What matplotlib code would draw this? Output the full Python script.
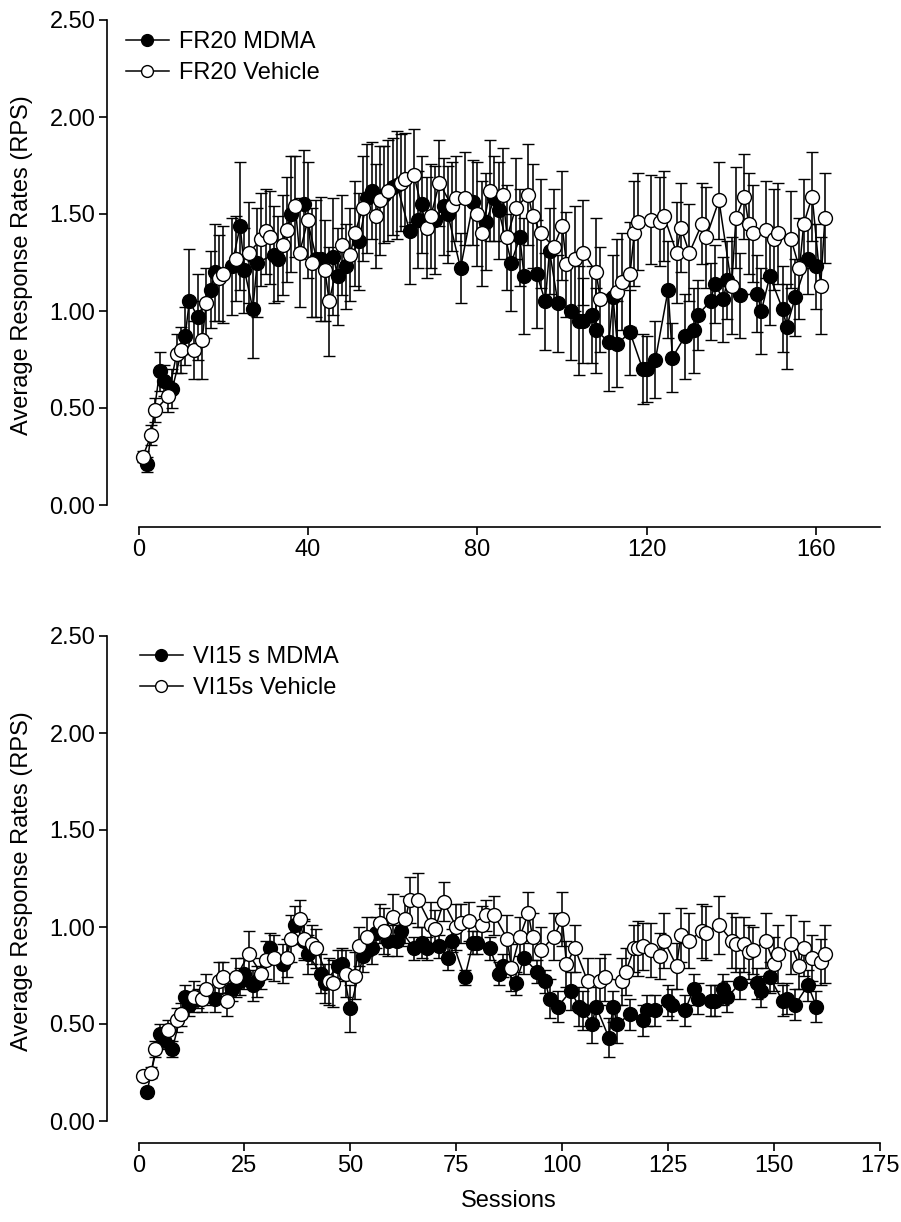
import matplotlib
matplotlib.use("Agg")
import matplotlib.pyplot as plt
from matplotlib.lines import Line2D

plt.rcParams['font.family'] = ['Liberation Sans', 'DejaVu Sans']

# ---------------- Top panel (FR20) ----------------
fr_veh_x = [1, 3, 4, 7, 9, 10, 13, 15, 16, 19, 20, 23, 26, 29, 30, 31, 34, 35, 37, 38,
            40, 41, 44, 45, 48, 50, 51, 53, 56, 57, 59, 62, 63, 65, 68, 69, 71, 74, 75, 77,
            80, 81, 83, 86, 87, 89, 92, 93, 95, 98, 100, 101, 103, 105, 108, 109, 113, 114, 116, 117,
            118, 121, 123, 124, 127, 128, 130, 133, 134, 137, 140, 141, 143, 144, 145, 148, 150, 151, 154, 156,
            157, 159, 161, 162]
fr_veh_y = [0.25, 0.36, 0.49, 0.56, 0.78, 0.80, 0.80, 0.85, 1.04, 1.17, 1.19, 1.27, 1.30, 1.37, 1.41, 1.38, 1.34, 1.42, 1.54, 1.30,
            1.47, 1.25, 1.21, 1.05, 1.34, 1.29, 1.40, 1.53, 1.49, 1.57, 1.62, 1.66, 1.68, 1.70, 1.43, 1.49, 1.66, 1.54, 1.58, 1.58,
            1.50, 1.40, 1.62, 1.60, 1.38, 1.53, 1.60, 1.49, 1.40, 1.33, 1.44, 1.24, 1.27, 1.30, 1.20, 1.06, 1.10, 1.15, 1.19, 1.40,
            1.46, 1.47, 1.46, 1.49, 1.30, 1.43, 1.30, 1.45, 1.38, 1.57, 1.13, 1.48, 1.59, 1.45, 1.40, 1.42, 1.37, 1.40, 1.37, 1.22,
            1.45, 1.59, 1.13, 1.48]
fr_veh_e = [0.03, 0.05, 0.06, 0.08, 0.10, 0.12, 0.15, 0.20, 0.18, 0.22, 0.25, 0.22, 0.26, 0.24, 0.22, 0.24, 0.26, 0.27, 0.26, 0.28,
            0.30, 0.28, 0.26, 0.28, 0.26, 0.24, 0.27, 0.27, 0.27, 0.28, 0.26, 0.25, 0.24, 0.24, 0.26, 0.27, 0.22, 0.23, 0.22, 0.24,
            0.27, 0.27, 0.26, 0.24, 0.27, 0.26, 0.26, 0.27, 0.28, 0.30, 0.28, 0.27, 0.27, 0.27, 0.28, 0.27, 0.27, 0.25, 0.27, 0.27,
            0.25, 0.23, 0.23, 0.23, 0.26, 0.23, 0.25, 0.21, 0.26, 0.20, 0.25, 0.26, 0.22, 0.26, 0.25, 0.25, 0.26, 0.26, 0.25, 0.26,
            0.23, 0.23, 0.25, 0.23]

fr_mdma_x = [2, 5, 6, 8, 11, 12, 14, 17, 18, 22, 24, 25, 27, 28, 32, 33, 36, 39, 42, 43,
             46, 47, 49, 52, 54, 55, 58, 60, 61, 64, 66, 67, 70, 72, 73, 76, 79, 82, 84, 85,
             88, 90, 91, 94, 96, 97, 99, 102, 104, 105, 107, 108, 111, 112, 113, 116, 119, 120, 122, 125,
             126, 129, 131, 132, 135, 136, 138, 139, 142, 146, 147, 149, 152, 153, 155, 158, 160]
fr_mdma_y = [0.21, 0.69, 0.64, 0.60, 0.87, 1.05, 0.97, 1.11, 1.20, 1.23, 1.44, 1.21, 1.01, 1.25, 1.29, 1.27, 1.50, 1.55, 1.27, 1.27,
             1.28, 1.18, 1.23, 1.36, 1.58, 1.62, 1.60, 1.64, 1.65, 1.41, 1.47, 1.55, 1.47, 1.54, 1.50, 1.22, 1.56, 1.46, 1.58, 1.52,
             1.25, 1.38, 1.18, 1.19, 1.05, 1.31, 1.04, 1.00, 0.95, 0.95, 0.98, 0.90, 0.84, 1.07, 0.83, 0.89, 0.70, 0.70, 0.75, 1.11,
             0.76, 0.87, 0.90, 0.98, 1.05, 1.14, 1.06, 1.16, 1.08, 1.09, 1.00, 1.18, 1.01, 0.92, 1.07, 1.27, 1.23]
fr_mdma_e = [0.04, 0.10, 0.08, 0.10, 0.15, 0.27, 0.22, 0.20, 0.25, 0.25, 0.33, 0.22, 0.25, 0.28, 0.25, 0.22, 0.30, 0.28, 0.30, 0.32,
             0.30, 0.25, 0.22, 0.25, 0.28, 0.25, 0.25, 0.25, 0.28, 0.27, 0.25, 0.25, 0.28, 0.25, 0.25, 0.18, 0.22, 0.25, 0.22, 0.25,
             0.25, 0.25, 0.30, 0.28, 0.25, 0.22, 0.25, 0.25, 0.28, 0.22, 0.25, 0.22, 0.25, 0.22, 0.22, 0.22, 0.18, 0.17, 0.20, 0.25,
             0.18, 0.22, 0.22, 0.18, 0.20, 0.20, 0.22, 0.20, 0.22, 0.20, 0.22, 0.25, 0.22, 0.22, 0.20, 0.18, 0.22]

# ---------------- Bottom panel (VI15 s) ----------------
vi_veh_x = [1, 3, 4, 7, 9, 10, 13, 15, 16, 19, 20, 21, 23, 26, 29, 30, 32, 35, 36, 38,
            39, 41, 42, 45, 46, 49, 51, 52, 54, 57, 58, 60, 63, 64, 66, 69, 70, 72, 75, 76,
            78, 81, 82, 84, 87, 88, 90, 92, 93, 95, 98, 100, 101, 103, 106, 109, 110, 114, 115, 117,
            118, 119, 121, 123, 124, 127, 128, 130, 133, 134, 137, 140, 141, 143, 144, 145, 148, 150, 151, 154,
            156, 157, 159, 161, 162]
vi_veh_y = [0.23, 0.25, 0.37, 0.47, 0.52, 0.55, 0.64, 0.63, 0.68, 0.72, 0.74, 0.62, 0.74, 0.86, 0.76, 0.83, 0.84, 0.84, 0.94, 1.04,
            0.94, 0.91, 0.89, 0.72, 0.71, 0.76, 0.75, 0.90, 0.95, 1.02, 0.98, 1.05, 1.04, 1.14, 1.14, 1.01, 0.99, 1.13, 1.00, 1.02,
            1.03, 1.01, 1.06, 1.06, 0.94, 0.79, 0.95, 1.07, 0.95, 0.88, 0.95, 1.04, 0.81, 0.89, 0.72, 0.72, 0.74, 0.72, 0.77, 0.89,
            0.89, 0.90, 0.88, 0.85, 0.93, 0.80, 0.96, 0.93, 0.98, 0.97, 1.01, 0.93, 0.91, 0.91, 0.87, 0.88, 0.93, 0.81, 0.86, 0.91,
            0.80, 0.89, 0.84, 0.82, 0.86]
vi_veh_e = [0.02, 0.03, 0.04, 0.05, 0.06, 0.06, 0.08, 0.07, 0.08, 0.10, 0.08, 0.08, 0.10, 0.12, 0.08, 0.10, 0.12, 0.10, 0.12, 0.10,
            0.10, 0.10, 0.10, 0.12, 0.12, 0.12, 0.12, 0.10, 0.10, 0.10, 0.12, 0.12, 0.12, 0.12, 0.14, 0.12, 0.10, 0.10, 0.12, 0.10,
            0.10, 0.10, 0.08, 0.10, 0.12, 0.12, 0.10, 0.11, 0.12, 0.12, 0.12, 0.14, 0.12, 0.12, 0.12, 0.12, 0.12, 0.12, 0.12, 0.12,
            0.14, 0.12, 0.14, 0.12, 0.14, 0.12, 0.14, 0.14, 0.14, 0.14, 0.15, 0.14, 0.14, 0.14, 0.14, 0.12, 0.14, 0.14, 0.15, 0.15,
            0.12, 0.14, 0.12, 0.12, 0.15]

vi_mdma_x = [2, 5, 6, 8, 11, 12, 14, 18, 22, 24, 25, 27, 28, 31, 34, 37, 39, 40, 43, 44,
             47, 48, 50, 53, 55, 56, 59, 61, 62, 65, 67, 68, 71, 73, 74, 77, 79, 80, 83, 85,
             86, 89, 91, 94, 96, 97, 99, 102, 104, 105, 107, 108, 111, 112, 113, 116, 119, 120, 122, 125,
             126, 129, 131, 132, 135, 136, 138, 139, 142, 146, 147, 149, 152, 153, 155, 158, 160]
vi_mdma_y = [0.15, 0.45, 0.42, 0.37, 0.64, 0.60, 0.63, 0.63, 0.68, 0.72, 0.76, 0.70, 0.72, 0.89, 0.81, 1.01, 0.93, 0.86, 0.76, 0.71,
             0.80, 0.81, 0.58, 0.85, 0.89, 0.97, 0.93, 0.93, 0.98, 0.89, 0.92, 0.89, 0.90, 0.84, 0.93, 0.74, 0.92, 0.92, 0.89, 0.76,
             0.80, 0.71, 0.84, 0.77, 0.72, 0.63, 0.59, 0.67, 0.59, 0.57, 0.50, 0.59, 0.43, 0.59, 0.50, 0.55, 0.52, 0.57, 0.57, 0.62,
             0.60, 0.57, 0.68, 0.63, 0.62, 0.62, 0.68, 0.64, 0.71, 0.71, 0.67, 0.74, 0.62, 0.63, 0.60, 0.70, 0.59]
vi_mdma_e = [0.02, 0.05, 0.05, 0.04, 0.06, 0.06, 0.05, 0.07, 0.06, 0.07, 0.08, 0.08, 0.08, 0.08, 0.10, 0.10, 0.10, 0.10, 0.10, 0.10,
             0.08, 0.08, 0.12, 0.08, 0.08, 0.08, 0.08, 0.08, 0.08, 0.06, 0.08, 0.06, 0.06, 0.06, 0.06, 0.04, 0.06, 0.06, 0.06, 0.06,
             0.06, 0.06, 0.08, 0.06, 0.06, 0.10, 0.08, 0.10, 0.10, 0.10, 0.10, 0.10, 0.10, 0.08, 0.10, 0.08, 0.08, 0.08, 0.08, 0.08,
             0.08, 0.08, 0.08, 0.08, 0.08, 0.08, 0.08, 0.08, 0.08, 0.08, 0.08, 0.08, 0.08, 0.08, 0.08, 0.08, 0.08]

top_xticks = [0, 40, 80, 120, 160]
bot_xticks = [0, 25, 50, 75, 100, 125, 150, 175]
yticks = [0.0, 0.5, 1.0, 1.5, 2.0, 2.5]
ytick_labels = ["0.00", "0.50", "1.00", "1.50", "2.00", "2.50"]

FS = 17
W, H = 901, 1222
fig = plt.figure(figsize=(W / 100, H / 100), dpi=100)

left = 138.5 / W
width = (880 - 138.5) / W
ax_h = 485 / H
ax_top = fig.add_axes([left, 1 - 505 / H, width, ax_h])
ax_bot = fig.add_axes([left, 1 - 1121 / H, width, ax_h])


def draw(ax, mx, my, me, vx, vy, ve, xticks, labels, leg_anchor):
    common = dict(color='black', lw=1.1, elinewidth=1.15, capsize=4.3, capthick=1.15,
                  ms=10, mec='black', mew=1.0, clip_on=False)
    h1 = ax.errorbar(mx, my, yerr=me, fmt='-o', mfc='black', zorder=3, **common)
    h2 = ax.errorbar(vx, vy, yerr=ve, fmt='-o', mfc='white', zorder=4, **common)
    for h in (h1, h2):
        for art in h.get_children():
            art.set_clip_on(False)
    ax.set_xlim(0, 175)
    ax.set_ylim(0, 2.5)
    ax.set_xticks(xticks)
    ax.set_xticklabels([str(t) for t in xticks])
    ax.set_yticks(yticks)
    ax.set_yticklabels(ytick_labels)
    for s in ('top', 'right'):
        ax.spines[s].set_visible(False)
    ax.spines['left'].set_position(('outward', 22.5))
    ax.spines['bottom'].set_position(('outward', 16))
    for s in ('left', 'bottom'):
        ax.spines[s].set_linewidth(1.2)
    ax.tick_params(axis='both', direction='out', length=5.5, width=1.2,
                   labelsize=FS, pad=3)
    handles = [Line2D([], [], color='black', lw=1.1, marker='o', ms=8.5, mfc='black', mec='black', mew=1.0),
               Line2D([], [], color='black', lw=1.1, marker='o', ms=8.5, mfc='white', mec='black', mew=1.0)]
    fig.legend(handles, labels, loc='upper left', bbox_to_anchor=leg_anchor,
               frameon=False, fontsize=FS, handlelength=1.8, handletextpad=0.45,
               labelspacing=0.4, borderpad=0, borderaxespad=0)


draw(ax_top, fr_mdma_x, fr_mdma_y, fr_mdma_e, fr_veh_x, fr_veh_y, fr_veh_e,
     top_xticks, ["FR20 MDMA", "FR20 Vehicle"], (126 / W, 1 - 31 / H))
draw(ax_bot, vi_mdma_x, vi_mdma_y, vi_mdma_e, vi_veh_x, vi_veh_y, vi_veh_e,
     bot_xticks, ["VI15 s MDMA", "VI15s Vehicle"], (140 / W, 1 - 646 / H))

fig.text(22 / W, 1 - 265 / H, "Average Response Rates (RPS)", rotation=90,
         ha='center', va='center', fontsize=FS)
fig.text(22 / W, 1 - 881 / H, "Average Response Rates (RPS)", rotation=90,
         ha='center', va='center', fontsize=FS)
fig.text(509 / W, 1 - 1201 / H, "Sessions", ha='center', va='center', fontsize=FS)

fig.savefig("out.png", dpi=100)
